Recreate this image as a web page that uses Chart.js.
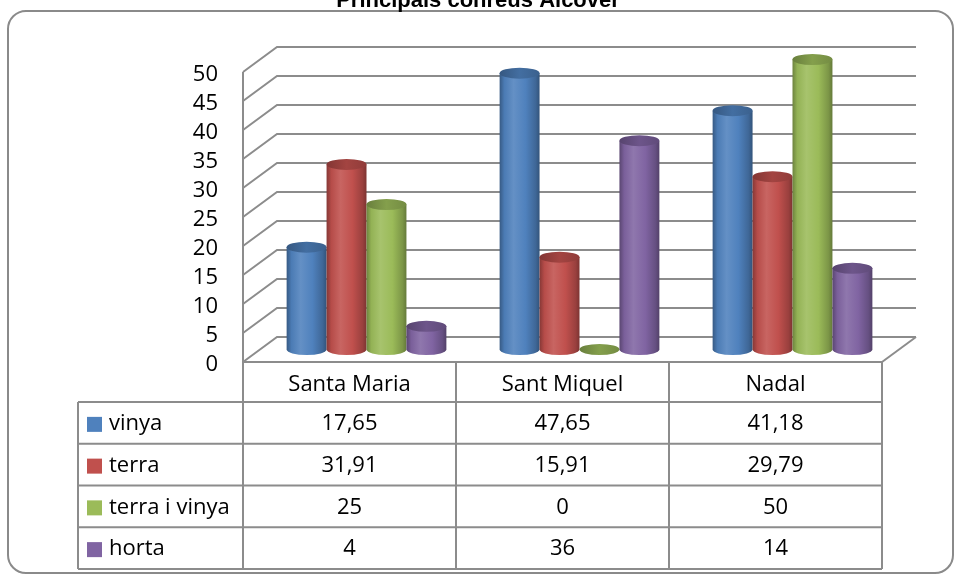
<!DOCTYPE html>
<html>
<head>
<meta charset="utf-8">
<script src="https://cdn.jsdelivr.net/npm/chart.js@4.4.1/dist/chart.umd.min.js"></script>
<style>
  html, body { margin: 0; padding: 0; background: #fff; }
  #wrap { width: 956px; height: 576px; position: relative; }
</style>
</head>
<body>
<div id="wrap"><canvas id="myChart"></canvas></div>
<script>
// ---------------------------------------------- data ----------------------------------------------
const categories = ["Santa Maria", "Sant Miquel", "Nadal"];
const seriesNames = ["vinya", "terra", "terra i vinya", "horta"];
const vinya = [17.65, 47.65, 41.18];
const terra = [31.91, 15.91, 29.79];
const terraVinya = [25, 0, 50];
const horta = [4, 36, 14];
const yTicks = [0, 5, 10, 15, 20, 25, 30, 35, 40, 45, 50];
const chartTitle = "Principals conreus Alcover";

const seriesColors = ["#4F81BD", "#C0504D", "#9BBB59", "#8064A2"];

// 3D depth of the walls
const DEPTH_X = 34;
const DEPTH_Y = -25;
const LINE = "#8c8c8c";
const FONT = "'Open Sans', 'Noto Sans', sans-serif";

function shade(hex, amt) {
    var r = parseInt(hex.substr(1, 2), 16), g = parseInt(hex.substr(3, 2), 16), b = parseInt(hex.substr(5, 2), 16);
    var t = amt < 0 ? 0 : 255, p = Math.abs(amt);
    r = Math.round(r + (t - r) * p); g = Math.round(g + (t - g) * p); b = Math.round(b + (t - b) * p);
    return "rgb(" + r + "," + g + "," + b + ")";
}

function fmt(v) {
    return String(v).replace(".", ",");
}

// walls, floor, gridlines, cylinders and the data table
const wallsPlugin = {
    id: "walls",
    beforeDatasetsDraw(chart) {
        const ctx = chart.ctx, area = chart.chartArea, y = chart.scales.y;
        ctx.save();
        ctx.strokeStyle = LINE;
        ctx.lineWidth = 2;
        yTicks.forEach(function (v) {
            const yf = y.getPixelForValue(v);
            ctx.beginPath();
            ctx.moveTo(area.left, yf);
            ctx.lineTo(area.left + DEPTH_X, yf + DEPTH_Y);
            ctx.lineTo(area.right + DEPTH_X, yf + DEPTH_Y);
            ctx.stroke();
        });
        // left wall front edge
        ctx.beginPath();
        ctx.moveTo(area.left, y.getPixelForValue(yTicks[yTicks.length - 1]));
        ctx.lineTo(area.left, area.bottom);
        ctx.stroke();
        // floor right edge
        ctx.beginPath();
        ctx.moveTo(area.right, area.bottom);
        ctx.lineTo(area.right + DEPTH_X, area.bottom + DEPTH_Y);
        ctx.stroke();

        // y labels
        ctx.fillStyle = "#000";
        ctx.font = "22px " + FONT;
        ctx.textAlign = "right";
        ctx.textBaseline = "middle";
        yTicks.forEach(function (v) {
            ctx.fillText(String(v), area.left - 25, y.getPixelForValue(v) + 3);
        });
        ctx.restore();
    },
    beforeDatasetDraw() {
        return false; // cylinders are drawn below instead of flat bars
    },
    afterDatasetsDraw(chart) {
        const ctx = chart.ctx;
        const sx = DEPTH_X / 2, sy = DEPTH_Y / 2;
        chart.data.datasets.forEach(function (ds, di) {
            const meta = chart.getDatasetMeta(di);
            const col = seriesColors[di];
            meta.data.forEach(function (el) {
                const p = el.getProps(["x", "y", "base", "width"], true);
                const cx = p.x + sx, rx = p.width / 2, ry = 5.5;
                const top = p.y + sy, bot = p.base + sy;
                const left = cx - rx, right = cx + rx;
                ctx.save();
                if (bot - top > 0.5) {
                    const g = ctx.createLinearGradient(left, 0, right, 0);
                    g.addColorStop(0, shade(col, -0.3));
                    g.addColorStop(0.12, shade(col, -0.05));
                    g.addColorStop(0.35, shade(col, 0.12));
                    g.addColorStop(0.65, col);
                    g.addColorStop(0.9, shade(col, -0.2));
                    g.addColorStop(1, shade(col, -0.35));
                    ctx.beginPath();
                    ctx.moveTo(left, top);
                    ctx.lineTo(left, bot);
                    ctx.ellipse(cx, bot, rx, ry, 0, Math.PI, 0, true);
                    ctx.lineTo(right, top);
                    ctx.closePath();
                    ctx.fillStyle = g;
                    ctx.fill();
                }
                // top cap
                const gt = ctx.createLinearGradient(left, 0, right, 0);
                gt.addColorStop(0, shade(col, -0.32));
                gt.addColorStop(0.5, shade(col, -0.15));
                gt.addColorStop(1, shade(col, -0.25));
                ctx.beginPath();
                ctx.ellipse(cx, top, rx, ry, 0, 0, Math.PI * 2);
                ctx.fillStyle = gt;
                ctx.fill();
                ctx.restore();
            });
        });
    },
    afterDraw(chart) {
        const ctx = chart.ctx, area = chart.chartArea, x = chart.scales.x;
        const catW = x.getPixelForValue(1) - x.getPixelForValue(0);
        const firstEdge = x.getPixelForValue(0) - catW / 2;
        const legendLeft = 78;
        const headTop = area.bottom, headBot = 402, rowH = 41.75;
        const tableBot = headBot + rowH * seriesNames.length;
        ctx.save();
        // outer rounded border
        ctx.strokeStyle = "#8a8a8a";
        ctx.lineWidth = 2;
        ctx.beginPath();
        ctx.roundRect(8, 11, 945, 562, 18);
        ctx.stroke();

        // title
        ctx.fillStyle = "#000";
        ctx.font = "bold 22px 'Liberation Sans', Arial, sans-serif";
        ctx.textAlign = "center";
        ctx.textBaseline = "alphabetic";
        ctx.fillText(chartTitle, 478, 7);

        // table grid
        ctx.strokeStyle = LINE;
        ctx.lineWidth = 2;
        ctx.beginPath();
        ctx.moveTo(area.left, headTop);
        ctx.lineTo(area.right, headTop);
        for (let r = 0; r <= seriesNames.length; r++) {
            const yy = headBot + r * rowH;
            ctx.moveTo(legendLeft, yy);
            ctx.lineTo(area.right, yy);
        }
        for (let c = 0; c <= categories.length; c++) {
            ctx.moveTo(firstEdge + c * catW, headTop);
            ctx.lineTo(firstEdge + c * catW, tableBot);
        }
        ctx.moveTo(legendLeft, headBot);
        ctx.lineTo(legendLeft, tableBot);
        ctx.stroke();

        // header text
        ctx.fillStyle = "#000";
        ctx.font = "22px " + FONT;
        ctx.textAlign = "center";
        ctx.textBaseline = "middle";
        categories.forEach(function (c, i) {
            ctx.fillText(c, x.getPixelForValue(i), (headTop + headBot) / 2 + 3);
        });

        // rows: legend key, name, values
        chart.data.datasets.forEach(function (ds, di) {
            const yc = headBot + di * rowH + rowH / 2 + 1;
            ctx.fillStyle = seriesColors[di];
            ctx.fillRect(87, yc - 7, 15, 15);
            ctx.fillStyle = "#000";
            ctx.textAlign = "left";
            ctx.fillText(ds.label, 109, yc);
            ctx.textAlign = "center";
            ds.data.forEach(function (v, i) {
                ctx.fillText(fmt(v), x.getPixelForValue(i), yc);
            });
        });
        ctx.restore();
    }
};

// setup
const data = {
    labels: categories,
    datasets: [
        { label: seriesNames[0], data: vinya, backgroundColor: seriesColors[0] },
        { label: seriesNames[1], data: terra, backgroundColor: seriesColors[1] },
        { label: seriesNames[2], data: terraVinya, backgroundColor: seriesColors[2] },
        { label: seriesNames[3], data: horta, backgroundColor: seriesColors[3] },
    ],
};

//config
const config = {
    type: "bar",
    data: data,
    options: {
        responsive: true,
        maintainAspectRatio: false,
        animation: false,
        devicePixelRatio: 1,
        categoryPercentage: 0.75,
        barPercentage: 1.0,
        layout: {
            padding: { left: 243, right: 74, top: 72, bottom: 214 },
        },
        scales: {
            x: { display: false },
            y: { display: false, min: 0, max: 50 },
        },
        plugins: {
            legend: { display: false },
            title: { display: false },
            tooltip: { enabled: false },
        },
    },
    plugins: [wallsPlugin],
};

//render init block
const myChart = new Chart(document.getElementById("myChart").getContext("2d"), config);
</script>
</body>
</html>
